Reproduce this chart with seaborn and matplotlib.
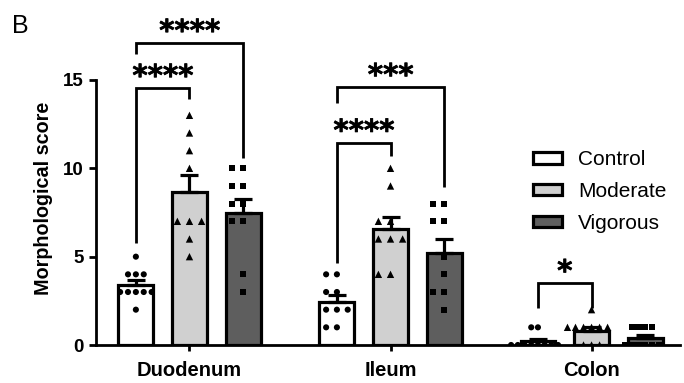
import numpy as np
import pandas as pd
import matplotlib
matplotlib.use("Agg")
import matplotlib.pyplot as plt
import matplotlib.patheffects as pe
from matplotlib.patches import Patch
import seaborn as sns

# Categories and groups
tissues = ["Duodenum", "Ileum", "Colon"]
groups = ["Control", "Moderate", "Vigorous"]
bar_colors = ["#ffffff", "#d0d0d0", "#5e5e5e"]
group_markers = ["o", "^", "s"]
marker_sizes = [4.4, 5.3, 4.4]

# Individual morphological scores per animal
duodenum_control = [5, 4, 4, 4, 3, 3, 3, 3, 3, 2]
duodenum_moderate = [13, 12, 11, 10, 7, 7, 7, 6, 5]
duodenum_vigorous = [10, 10, 9, 9, 8, 8, 7, 7, 4, 3]
ileum_control = [4, 4, 3, 3, 2, 2, 2, 1, 1]
ileum_moderate = [10, 9, 7, 7, 6, 6, 6, 4, 4]
ileum_vigorous = [8, 8, 7, 7, 5, 4, 3, 3, 2]
colon_control = [1, 1, 0, 0, 0, 0, 0, 0, 0, 0]
colon_moderate = [2, 1, 1, 1, 1, 1, 1, 0, 0, 0]
colon_vigorous = [1, 1, 1, 1, 0, 0, 0, 0, 0, 0]

# Significance brackets
bracket_tissue = ["Duodenum", "Duodenum", "Ileum", "Ileum", "Colon"]
bracket_pair = [("Control", "Moderate"), ("Control", "Vigorous"),
                ("Control", "Moderate"), ("Control", "Vigorous"),
                ("Control", "Moderate")]
bracket_top = [14.55, 17.1, 11.45, 14.6, 3.5]
bracket_left_end = [5.8, 16.5, 4.65, 13.7, 2.1]
bracket_right_end = [13.9, 10.6, 10.7, 8.95, 2.1]
bracket_label = ["****", "****", "****", "***", "*"]

scores = {
    ("Duodenum", "Control"): duodenum_control,
    ("Duodenum", "Moderate"): duodenum_moderate,
    ("Duodenum", "Vigorous"): duodenum_vigorous,
    ("Ileum", "Control"): ileum_control,
    ("Ileum", "Moderate"): ileum_moderate,
    ("Ileum", "Vigorous"): ileum_vigorous,
    ("Colon", "Control"): colon_control,
    ("Colon", "Moderate"): colon_moderate,
    ("Colon", "Vigorous"): colon_vigorous,
}
rows = [(t, g, v) for (t, g), vals in scores.items() for v in vals]
df = pd.DataFrame(rows, columns=["tissue", "group", "score"])

sns.set_theme(style="ticks")
plt.rcParams["font.family"] = ["Liberation Sans", "DejaVu Sans"]
plt.rcParams.update({"text.color": "black", "axes.labelcolor": "black",
                     "axes.edgecolor": "black", "xtick.color": "black",
                     "ytick.color": "black"})

fig = plt.figure(figsize=(6.84, 3.83), dpi=100)
ax = fig.add_axes([96 / 684, 38 / 383, 584 / 684, 265 / 383])

sns.barplot(data=df, x="tissue", y="score", hue="group", order=tissues,
            hue_order=groups, palette=dict(zip(groups, bar_colors)),
            errorbar=None, gap=0.35, edgecolor="black", linewidth=2.3,
            saturation=1, legend=False, ax=ax)

# bar centres and means from the drawn bars; SEM drawn upward only
centers = {}
for g, cont in zip(groups, ax.containers):
    for t, bar in zip(tissues, cont):
        x = bar.get_x() + bar.get_width() / 2
        centers[(t, g)] = x
        vals = np.asarray(scores[(t, g)], dtype=float)
        sem = vals.std(ddof=1) / np.sqrt(len(vals))
        ax.errorbar([x], [bar.get_height()], yerr=[[0], [sem]], fmt="none",
                    ecolor="black", elinewidth=2.3, capsize=6.5,
                    capthick=2.3, zorder=3)

# individual points; an invisible edge keeps neighbours apart in the swarm
swarm_gap = {"Duodenum": 3.0, "Ileum": 3.0, "Colon": 0.2}
for g, m, ms in zip(groups, group_markers, marker_sizes):
    for t in tissues:
        sub = df[(df["group"] == g) & (df["tissue"] == t)]
        gap = 1.0 if (t, g) == ("Duodenum", "Control") else swarm_gap[t]
        sns.swarmplot(data=sub, x="tissue", y="score", hue="group",
                      order=tissues, hue_order=groups, dodge=True,
                      palette=dict.fromkeys(groups, "black"), marker=m,
                      size=ms, linewidth=gap, edgecolor="none",
                      legend=False, ax=ax, zorder=4)

# brackets
for t, (g1, g2), top, le, re, lab in zip(bracket_tissue, bracket_pair,
                                         bracket_top, bracket_left_end,
                                         bracket_right_end, bracket_label):
    x1, x2 = centers[(t, g1)], centers[(t, g2)]
    ax.plot([x1, x1, x2, x2], [le, top, top, re], color="black", lw=2.0,
            clip_on=False, solid_joinstyle="miter", solid_capstyle="butt")
    ax.text((x1 + x2) / 2, top + 0.15, lab, ha="center", va="baseline",
            fontsize=21, fontweight="bold", family="DejaVu Sans",
            color="black", clip_on=False,
            path_effects=[pe.withStroke(linewidth=0.5, foreground="black")])

ax.set_xlim(-0.465, 2.44)
ax.set_ylim(0, 15)
ax.set_yticks([0, 5, 10, 15])
sns.despine(ax=ax)
for s in ("left", "bottom"):
    ax.spines[s].set_linewidth(2.0)
ax.tick_params(axis="y", length=5, width=2.0, pad=4, labelsize=13.5,
               colors="black")
ax.tick_params(axis="x", length=4.5, width=2.0, pad=7, labelsize=14.5,
               colors="black")
for lbl in ax.get_yticklabels() + ax.get_xticklabels():
    lbl.set_fontweight("bold")
ax.set_xlabel("")
ax.set_ylabel("Morphological score", fontsize=14.2, fontweight="bold",
              color="black")
ax.yaxis.set_label_coords(-0.074, 0.555)

handles = [Patch(facecolor=c, edgecolor="black", linewidth=2.3, label=g)
           for g, c in zip(groups, bar_colors)]
ax.legend(handles=handles, loc="upper left",
          bbox_to_anchor=(533 / 684, 1 - 150 / 383),
          bbox_transform=fig.transFigure, frameon=False, fontsize=15,
          handlelength=1.4, handleheight=0.5, handletextpad=0.75,
          labelspacing=0.62, borderpad=0, borderaxespad=0,
          labelcolor="black")

fig.text(12 / 684, 1 - 33 / 383, "B", fontsize=18, va="baseline",
         color="black")

fig.savefig("out.png", dpi=100)
